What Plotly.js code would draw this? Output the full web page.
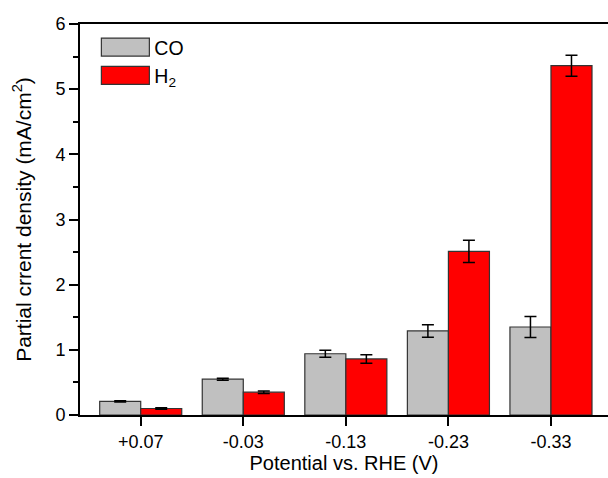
<!DOCTYPE html>
<html>
<head>
<meta charset="utf-8">
<script src="https://cdn.plot.ly/plotly-3.0.1.min.js"></script>
<style>html,body{margin:0;padding:0;background:#fff;}#chart{width:608px;height:478px;}</style>
</head>
<body>
<div id="chart"></div>
<script>
const categories = ["+0.07", "-0.03", "-0.13", "-0.23", "-0.33"];
const coValues = [0.21, 0.55, 0.94, 1.29, 1.35];
const coErrors = [0.01, 0.015, 0.055, 0.095, 0.16];
const h2Values = [0.10, 0.35, 0.86, 2.51, 5.36];
const h2Errors = [0.01, 0.02, 0.065, 0.17, 0.16];
const yTicks = [0, 1, 2, 3, 4, 5, 6];

const errStyle = {type: 'data', visible: true, color: '#000', thickness: 1.5, width: 6};

const traces = [
  {type: 'bar', name: 'CO', x: categories, y: coValues,
   error_y: Object.assign({array: coErrors}, errStyle),
   marker: {color: '#c0c0c0', line: {color: '#333', width: 1.2}}},
  {type: 'bar', name: 'H<sub>2</sub>', x: categories, y: h2Values,
   error_y: Object.assign({array: h2Errors}, errStyle),
   marker: {color: '#ff0000', line: {color: '#333', width: 1.2}}}
];

const layout = {
  width: 608, height: 478,
  margin: {l: 80, r: 0, t: 24, b: 63},
  paper_bgcolor: '#fff', plot_bgcolor: '#fff',
  font: {family: '"Liberation Sans", Arial, sans-serif', color: '#000', size: 18},
  barmode: 'group', bargap: 0.2, bargroupgap: 0,
  showlegend: true,
  legend: {x: 0.031, y: 0.99, xanchor: 'left', yanchor: 'top', bgcolor: 'rgba(0,0,0,0)',
           font: {size: 19.5}, itemwidth: 48, tracegroupgap: 0},
  xaxis: {
    type: 'category', range: [-0.592, 4.556],
    showline: true, linecolor: '#000', linewidth: 2, mirror: true,
    ticks: 'outside', ticklen: 9, tickwidth: 2, tickcolor: '#000',
    showgrid: false, zeroline: false,
    tickfont: {size: 18},
    title: {text: 'Potential vs. RHE (V)', font: {size: 20}, standoff: 4}
  },
  yaxis: {
    range: [0, 6], tickvals: yTicks,
    showline: true, linecolor: '#000', linewidth: 2, mirror: false,
    ticks: 'outside', ticklen: 9, tickwidth: 2, tickcolor: '#000',
    minor: {dtick: 0.5, ticks: 'outside', ticklen: 5, tickwidth: 2, tickcolor: '#000'},
    showgrid: false, zeroline: false,
    tickfont: {size: 18},
    title: {text: 'Partial crrent density (mA/cm<sup>2</sup>)', font: {size: 21}, standoff: 18}
  }
};

function enlargeLegendSwatches() {
  document.querySelectorAll('#chart .legend .legendpoints path').forEach(function (p) {
    p.setAttribute('d', 'M24,9H-24V-9H24Z');
  });
}

Plotly.newPlot('chart', traces, layout, {staticPlot: true, displayModeBar: false}).then(function () {
  enlargeLegendSwatches();
  setTimeout(enlargeLegendSwatches, 0);
});
</script>
</body>
</html>
